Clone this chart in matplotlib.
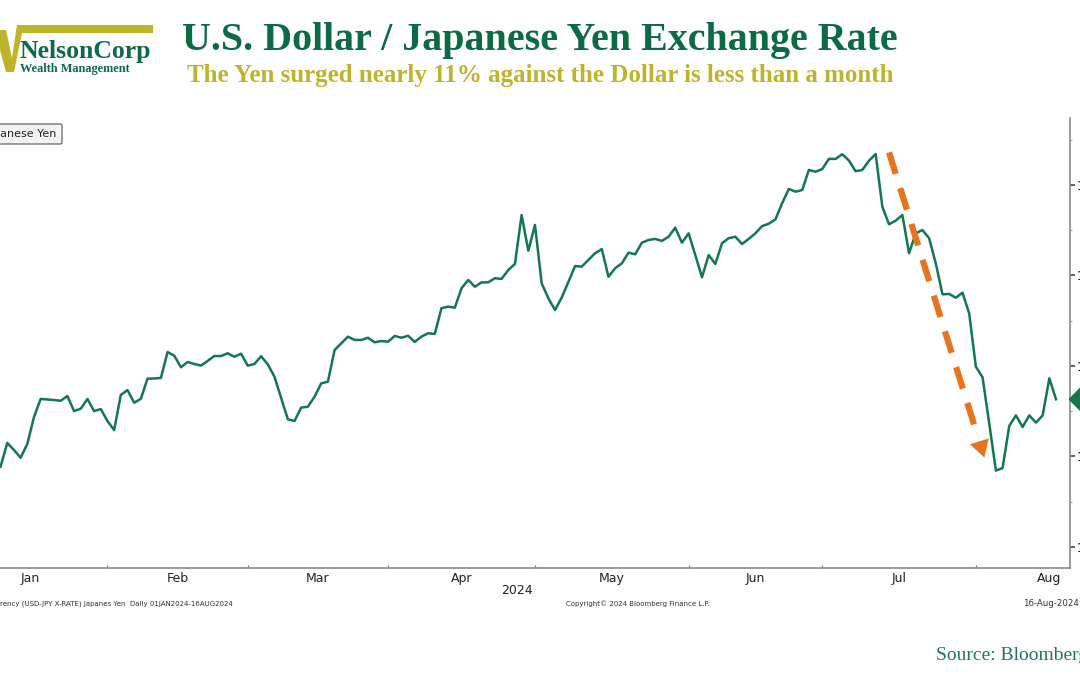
import numpy as np
import pandas as pd
import matplotlib
matplotlib.use("Agg")
import matplotlib.pyplot as plt
from matplotlib.patches import Polygon

# USD/JPY daily close (Bloomberg), weekdays; the picture starts on the 7th weekday of January
all_days = pd.bdate_range("2024-01-01", "2024-09-30")
dates = all_days[all_days <= "2024-08-16"]
first_shown = 6
usdjpy = [
    144.44, 145.75, 145.36, 144.93, 145.69, 147.18, 148.18, 148.15, 148.12, 148.08,
    148.34, 147.51, 147.64, 148.18, 147.51, 147.62, 146.96, 146.46, 148.40, 148.67,
    147.97, 148.19, 149.30, 149.31, 149.34, 150.77, 150.57, 149.93, 150.22, 150.11,
    150.02, 150.28, 150.55, 150.55, 150.70, 150.51, 150.68, 150.02, 150.11, 150.54,
    150.09, 149.41, 148.23, 147.06, 146.96, 147.70, 147.75, 148.30, 149.04, 149.13,
    150.88, 151.25, 151.62, 151.44, 151.44, 151.56, 151.31, 151.38, 151.34, 151.66,
    151.56, 151.67, 151.33, 151.62, 151.81, 151.77, 153.19, 153.28, 153.22, 154.29,
    154.75, 154.38, 154.62, 154.62, 154.85, 154.81, 155.30, 155.64, 158.34, 156.37,
    157.79, 154.57, 153.74, 153.09, 153.78, 154.64, 155.52, 155.49, 155.86, 156.23,
    156.46, 154.93, 155.40, 155.67, 156.26, 156.17, 156.81, 156.96, 157.02, 156.91,
    157.14, 157.64, 156.81, 157.33, 156.13, 154.90, 156.13, 155.64, 156.78, 157.06,
    157.14, 156.74, 157.02, 157.33, 157.73, 157.86, 158.10, 158.99, 159.78, 159.63,
    159.72, 160.83, 160.73, 160.88, 161.44, 161.44, 161.70, 161.35, 160.76, 160.83,
    161.34, 161.71, 158.80, 157.83, 158.03, 158.34, 156.23, 157.33, 157.51, 157.06,
    155.67, 153.96, 153.98, 153.77, 154.05, 152.91, 149.96, 149.38, 146.83, 144.22,
    144.36, 146.69, 147.27, 146.63, 147.27, 146.87, 147.27, 149.32, 148.16,
]
month_names = ["Jan", "Feb", "Mar", "Apr", "May", "Jun", "Jul", "Aug"]
yticks = [140, 145, 150, 155, 160]
arrow_start = (139.0, 161.8)   # (weekday index, yen)
arrow_end = (153.4, 144.8)

GREEN = "#13774f"
TITLE_GREEN = "#0b6b45"
OLIVE = "#bdb42c"
ORANGE = "#e8731f"

W, H = 1080, 675
fig = plt.figure(figsize=(10.8, 6.75), dpi=100)

def fx(px):
    return px / W

def fy(py):
    return 1 - py / H

# plot frame: the chart is cropped on the left, right spine at 1070 px
step, origin = 6.68, -39.5
xmin = -2
xmax = (1070 - origin) / step
left_px = origin + step * xmin
ax = fig.add_axes([fx(left_px), fy(568), (1070 - left_px) / W, (568 - 118) / H])

x = np.arange(first_shown, len(dates))
ax.plot(x, usdjpy, color=GREEN, lw=1.8, solid_joinstyle="round")
ax.set_xlim(xmin, xmax)
ax.set_ylim(138.84, 163.7)

# month boundaries (one weekday before the first weekday of each month)
month_first = [int(np.where(all_days.month == m)[0][0]) for m in range(1, 10)]
bounds = [i - 1 for i in month_first]
ax.set_xticks(bounds[1:8])
ax.set_xticklabels([])
ax.set_xticks([(a + b) / 2 for a, b in zip(bounds[:-1], bounds[1:])], minor=True)
ax.set_xticklabels(month_names, minor=True, fontsize=9, color="#222222")
ax.tick_params(axis="x", which="major", direction="in", length=2.5, color="#777777")
ax.tick_params(axis="x", which="minor", length=0, pad=3)

ax.yaxis.tick_right()
ax.set_yticks(yticks)
ax.set_yticks([v + 2.5 for v in yticks], minor=True)
ax.tick_params(axis="y", which="major", direction="out", length=3.5, width=1.2,
               color="#444444", labelsize=9, pad=1)
ax.tick_params(axis="y", which="minor", direction="out", length=1.5, color="#888888")

for s in ["top", "left"]:
    ax.spines[s].set_visible(False)
for s in ["right", "bottom"]:
    ax.spines[s].set_color("#8a8a8a")
    ax.spines[s].set_linewidth(1.2)

# last value tag on the right axis
last = usdjpy[-1]
ax.annotate(f"{last:.2f}", xy=(1.0, last), xycoords=("axes fraction", "data"),
            xytext=(8, 0), textcoords="offset points", va="center", ha="left",
            fontsize=8.5, color="white", annotation_clip=False,
            bbox=dict(boxstyle="larrow,pad=0.35", fc=GREEN, ec=GREEN))

# orange dashed arrow
shaft_end = (arrow_start[0] + (arrow_end[0] - arrow_start[0]) * 0.9,
             arrow_start[1] + (arrow_end[1] - arrow_start[1]) * 0.9)
ax.plot([arrow_start[0], shaft_end[0]], [arrow_start[1], shaft_end[1]],
        color=ORANGE, lw=4.5, ls=(0, (3.6, 2.4)), solid_capstyle="butt")
ax.annotate("", xy=arrow_end, xytext=shaft_end,
            arrowprops=dict(arrowstyle="-|>,head_length=0.6,head_width=0.35",
                            mutation_scale=20, color=ORANGE, lw=0.1))

# legend box, cut by the left edge
fig.text(fx(57), fy(134), "Japanese Yen", ha="right", va="center", fontsize=8,
         color="#222222",
         bbox=dict(boxstyle="round,pad=0.45,rounding_size=0.15", fc="#f3f3f3",
                   ec="#555555", lw=0.8))

# axis footers
fig.text(fx(517), fy(591), "2024", ha="center", va="center", fontsize=9, color="#222222")
fig.text(fx(233), fy(604), "Currency (USD-JPY X-RATE) Japanes Yen  Daily 01JAN2024-16AUG2024",
         ha="right", va="center", fontsize=5, color="#333333")
fig.text(fx(638), fy(604), "Copyright\u00a9 2024 Bloomberg Finance L.P.", ha="center",
         va="center", fontsize=5, color="#333333")
fig.text(fx(1023), fy(604), "16-Aug-2024", ha="left", va="center", fontsize=6.2, color="#333333")

# titles
fig.text(fx(540), fy(50), "U.S. Dollar / Japanese Yen Exchange Rate", ha="center",
         va="baseline", fontsize=28.8, fontweight="bold", family="Liberation Serif",
         color=TITLE_GREEN)
fig.text(fx(540), fy(82), "The Yen surged nearly 11% against the Dollar is less than a month",
         ha="center", va="baseline", fontsize=18.0, fontweight="bold",
         family="Liberation Serif", color=OLIVE)

# logo
logo = [(0, 30), (6, 30), (12, 58), (17, 25), (153, 25), (153, 33), (22, 33),
        (14, 72), (6, 72), (0, 50)]
fig.patches.append(Polygon([(fx(a), fy(b)) for a, b in logo], closed=True,
                           transform=fig.transFigure, fc=OLIVE, ec="none"))
fig.text(fx(20), fy(58), "NelsonCorp", ha="left", va="baseline", fontsize=18.5,
         fontweight="bold", family="Liberation Serif", color=TITLE_GREEN)
fig.text(fx(20), fy(72), "Wealth Management", ha="left", va="baseline", fontsize=8.8,
         fontweight="bold", family="Liberation Serif", color=TITLE_GREEN)

fig.text(fx(936), fy(660), "Source: Bloomberg", ha="left", va="baseline", fontsize=14,
         family="Liberation Serif", color="#1d7a55")

fig.savefig("out.png", dpi=100)
